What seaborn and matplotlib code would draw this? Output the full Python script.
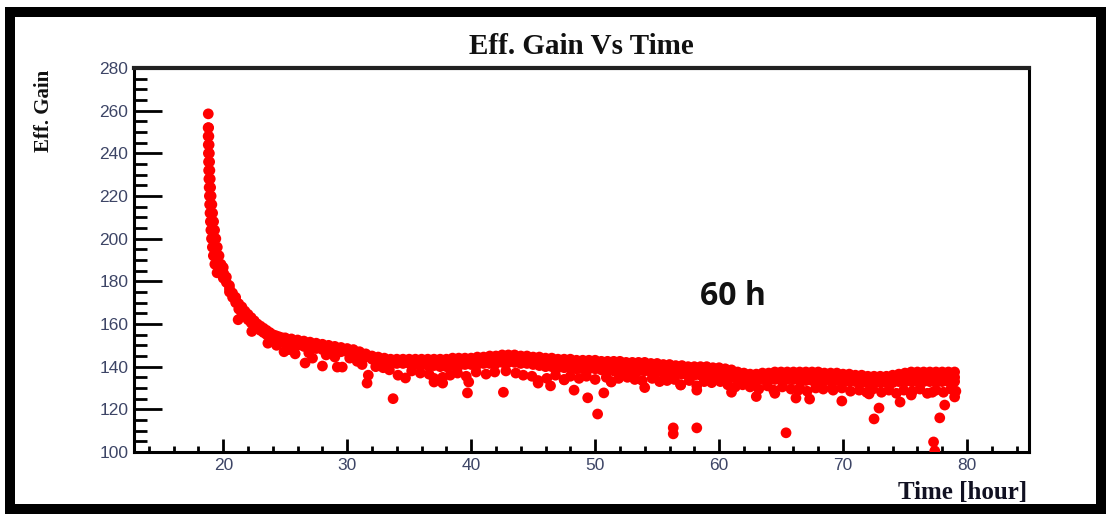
import numpy as np
import pandas as pd
import matplotlib
matplotlib.use("Agg")
import matplotlib.pyplot as plt
import seaborn as sns
from matplotlib.ticker import MultipleLocator
from matplotlib.patches import Rectangle

# ---------------- data ----------------
# steep initial decay (time [hour], eff. gain)
rise_time = [18.79,
             18.78, 18.78, 18.79, 18.80, 18.81, 18.82, 18.84, 18.86, 18.88, 18.90,
             18.93, 18.96, 19.00, 19.05, 19.12, 19.20, 19.32, 19.50,
             18.82, 18.84, 18.86, 18.88, 18.90, 18.92, 18.95, 18.98, 19.02, 19.08,
             19.14, 19.22, 19.30, 19.40, 19.52, 19.66, 19.82, 20.00,
             20.25, 20.25, 20.75, 20.75, 21.25, 21.25, 21.75, 21.75, 22.25, 22.25,
             22.75, 22.75, 23.25, 23.25, 23.75, 23.75, 24.25, 24.25, 24.75, 24.75]
rise_gain = [258.5,
             252.0, 248.0, 244.0, 240.0, 236.0, 232.0, 228.0, 224.0, 220.0, 216.0,
             212.0, 208.0, 204.0, 200.0, 196.0, 192.0, 188.0, 184.0,
             252.0, 248.0, 244.0, 240.0, 236.0, 232.0, 228.0, 224.0, 220.0, 216.0,
             212.0, 208.0, 204.0, 200.0, 196.0, 192.0, 188.0, 184.0,
             182.0, 179.5, 174.5, 172.5, 169.5, 167.0, 166.0, 163.5, 163.0, 160.5,
             160.0, 158.0, 158.0, 156.0, 156.0, 154.0, 154.5, 152.5, 153.5, 151.5]

# main band: time and three rows (upper / middle / lower part of the band)
band_time = [20.0, 20.5, 21.0, 21.5, 22.0, 22.5, 23.0, 23.5, 24.0, 24.5,
             25.0, 25.5, 26.0, 26.5, 27.0, 27.5, 28.0, 28.5, 29.0, 29.5,
             30.0, 30.5, 31.0, 31.5, 32.0, 32.5, 33.0, 33.5, 34.0, 34.5,
             35.0, 35.5, 36.0, 36.5, 37.0, 37.5, 38.0, 38.5, 39.0, 39.5,
             40.0, 40.5, 41.0, 41.5, 42.0, 42.5, 43.0, 43.5, 44.0, 44.5,
             45.0, 45.5, 46.0, 46.5, 47.0, 47.5, 48.0, 48.5, 49.0, 49.5,
             50.0, 50.5, 51.0, 51.5, 52.0, 52.5, 53.0, 53.5, 54.0, 54.5,
             55.0, 55.5, 56.0, 56.5, 57.0, 57.5, 58.0, 58.5, 59.0, 59.5,
             60.0, 60.5, 61.0, 61.5, 62.0, 62.5, 63.0, 63.5, 64.0, 64.5,
             65.0, 65.5, 66.0, 66.5, 67.0, 67.5, 68.0, 68.5, 69.0, 69.5,
             70.0, 70.5, 71.0, 71.5, 72.0, 72.5, 73.0, 73.5, 74.0, 74.5,
             75.0, 75.5, 76.0, 76.5, 77.0, 77.5, 78.0, 78.5, 79.0]
band_hi = [186.5, 178.0, 172.5, 168.0, 164.5, 161.5, 159.0, 157.0, 155.0, 154.0,
           153.5, 153.0, 152.5, 152.0, 151.5, 151.0, 150.5, 150.0, 149.5, 149.0,
           148.5, 148.0, 147.0, 146.0, 145.0, 144.5, 144.0, 143.5, 143.5, 143.5,
           143.5, 143.5, 143.5, 143.5, 143.5, 143.5, 143.5, 144.0, 144.0, 144.0,
           144.0, 144.5, 144.5, 145.0, 145.0, 145.5, 145.5, 145.5, 145.0, 145.0,
           144.5, 144.5, 144.0, 144.0, 143.5, 143.5, 143.5, 143.0, 143.0, 143.0,
           143.0, 142.5, 142.5, 142.5, 142.5, 142.0, 142.0, 142.0, 142.0, 141.5,
           141.5, 141.0, 141.0, 140.5, 140.5, 140.0, 140.0, 140.0, 140.0, 139.5,
           139.5, 139.0, 138.5, 137.5, 137.0, 136.5, 136.5, 137.0, 137.0, 137.5,
           137.5, 137.5, 137.5, 137.5, 137.5, 137.5, 137.5, 137.0, 137.0, 137.0,
           136.5, 136.5, 136.0, 136.0, 135.5, 135.5, 135.5, 135.5, 136.0, 136.5,
           137.0, 137.5, 137.5, 137.5, 137.5, 137.5, 137.5, 137.5, 137.5]
band_mid = [184.0, 176.5, 171.0, 166.5, 163.0, 160.0, 157.5, 156.0, 154.0, 153.0,
            152.5, 152.0, 151.5, 150.5, 150.0, 149.5, 149.0, 148.5, 148.5, 148.0,
            147.5, 147.0, 146.0, 145.0, 144.0, 143.5, 143.0, 142.5, 142.5, 142.5,
            142.0, 142.0, 142.0, 142.0, 141.5, 142.0, 142.0, 142.0, 142.5, 142.5,
            142.5, 143.0, 143.0, 143.0, 143.5, 143.5, 144.0, 143.5, 143.5, 143.0,
            143.0, 142.5, 142.0, 142.0, 141.5, 141.5, 141.5, 141.0, 141.0, 141.0,
            141.0, 140.5, 140.5, 140.5, 140.0, 140.0, 140.0, 140.0, 140.0, 139.5,
            139.5, 139.0, 139.0, 138.5, 138.5, 138.0, 138.0, 138.0, 138.0, 137.5,
            137.5, 137.0, 136.5, 136.0, 135.5, 135.0, 135.0, 135.5, 135.5, 135.5,
            135.5, 135.5, 135.5, 135.5, 135.5, 135.5, 135.5, 135.0, 135.0, 135.0,
            134.5, 134.5, 134.5, 134.0, 134.0, 134.0, 134.0, 134.0, 134.0, 134.5,
            135.0, 135.0, 135.0, 135.0, 135.0, 135.0, 135.0, 135.0, 135.0]
band_lo = [181.5, 175.0, 170.0, 165.0, 162.0, 159.0, 157.0, 155.0, 153.5, 152.5,
           151.5, 151.0, 150.0, 149.5, 149.0, 148.5, 148.0, 147.5, 147.5, 147.0,
           147.0, 146.5, 145.5, 144.5, 143.5, 143.0, 142.5, 142.0, 141.5, 141.5,
           141.5, 141.0, 141.0, 140.5, 140.5, 140.0, 140.0, 140.5, 140.5, 141.0,
           141.0, 141.0, 141.5, 141.5, 141.5, 142.0, 142.0, 142.0, 141.5, 141.5,
           141.0, 140.5, 140.0, 140.0, 139.5, 139.5, 139.5, 139.0, 139.0, 139.0,
           139.0, 138.5, 138.5, 138.0, 138.0, 138.0, 138.0, 138.0, 138.0, 137.5,
           137.5, 137.0, 137.0, 136.5, 136.5, 136.0, 136.0, 136.0, 136.0, 135.5,
           135.5, 135.0, 135.0, 134.5, 134.0, 133.5, 133.5, 134.0, 134.0, 134.0,
           134.0, 134.0, 134.0, 133.5, 133.5, 133.5, 133.5, 133.5, 133.5, 133.5,
           133.0, 133.0, 133.0, 132.5, 132.5, 132.5, 132.5, 132.5, 132.5, 133.0,
           133.0, 133.0, 133.0, 133.0, 133.0, 133.0, 133.0, 133.0, 133.0]

# ragged points just below the band
edge_time = [21.2, 22.3, 23.6, 24.3, 25.3, 25.8, 26.9, 27.2, 28.3, 29.0, 30.2, 30.8,
             31.2, 32.3, 32.9, 33.4, 34.1, 35.2, 35.9, 36.6, 37.0, 37.7, 38.3, 38.9,
             39.6, 40.4, 41.2, 41.9, 42.8, 43.6, 44.2, 44.9, 45.4, 46.1, 46.8, 47.5,
             48.0, 48.7, 49.3, 50.0, 50.9, 51.3, 51.9, 52.6, 53.2, 53.8, 54.6, 55.2,
             55.8, 56.4, 56.9, 57.6, 58.2, 58.8, 59.4, 60.1, 60.7, 61.3, 61.9, 62.5,
             63.2, 63.9, 64.4, 65.1, 65.8, 66.5, 67.1, 67.8, 68.4, 69.2, 69.9, 70.6,
             71.3, 71.9, 72.4, 73.1, 73.7, 74.3, 74.9, 75.6, 76.2, 76.8, 77.5, 78.1,
             78.7, 79.1]
edge_gain = [162.0, 156.5, 151.0, 150.0, 148.0, 146.0, 146.5, 144.0, 145.5, 144.5, 144.0, 142.5,
             141.0, 140.0, 139.5, 138.5, 136.0, 138.0, 137.0, 136.5, 134.5, 135.0, 136.0, 137.0,
             135.5, 137.5, 136.5, 137.5, 138.0, 137.0, 136.0, 135.5, 133.5, 134.5, 136.0, 134.0,
             135.5, 134.5, 135.5, 134.0, 135.0, 133.0, 134.5, 135.0, 134.0, 133.5, 134.5, 133.0,
             133.5, 134.0, 131.5, 133.5, 131.0, 133.0, 132.5, 133.0, 131.5, 130.5, 131.5, 130.5,
             129.5, 131.0, 129.0, 130.5, 129.5, 130.0, 128.5, 130.0, 129.5, 129.0, 130.0, 128.5,
             129.0, 128.0, 129.5, 128.0, 129.0, 127.5, 129.0, 128.5, 129.5, 127.5, 129.0, 128.0,
             129.5, 128.5]

# isolated outliers
out_time = [24.9, 26.6, 28.0, 29.2, 29.6, 31.7, 31.6, 33.7, 34.7, 37.0, 37.7, 39.8,
            39.7, 42.6, 45.4, 46.4, 47.5, 48.3, 49.4, 50.7, 50.2, 51.3, 54.0, 56.3,
            56.3, 58.2, 56.9, 58.2, 61.0, 63.0, 64.5, 65.4, 66.2, 66.4, 67.3, 69.1,
            69.9, 72.1, 72.9, 72.5, 74.6, 75.5, 77.2, 78.2, 77.8, 79.0, 77.3, 77.4]
out_gain = [147.0, 141.7, 140.3, 139.8, 139.8, 136.0, 132.3, 125.0, 134.7, 132.8, 132.3, 132.8,
            127.7, 128.0, 132.3, 131.0, 133.8, 129.0, 125.4, 127.7, 117.8, 132.8, 130.2, 111.3,
            108.5, 111.3, 131.4, 129.0, 128.0, 126.0, 127.5, 109.0, 125.3, 129.0, 124.8, 130.0,
            123.9, 127.2, 120.6, 115.5, 123.4, 126.7, 128.0, 122.0, 116.0, 125.8, 104.7, 100.5]

x_ticks = [20, 30, 40, 50, 60, 70, 80]
y_ticks = [100, 120, 140, 160, 180, 200, 220, 240, 260, 280]

# ---------------- figure ----------------
sns.set_style("ticks")
plt.rcParams['font.family'] = ['Liberation Sans', 'DejaVu Sans']

fig = plt.figure(figsize=(11.14, 5.19), dpi=100)
ax = fig.add_axes([0.1203, 0.1291, 0.8034, 0.7399])

df = pd.DataFrame({
    "time": rise_time + band_time * 3 + edge_time + out_time,
    "gain": rise_gain + band_hi + band_mid + band_lo + edge_gain + out_gain,
})
sns.scatterplot(data=df, x="time", y="gain", color="#ff0000", s=60,
                linewidth=0, edgecolor="none", ax=ax, legend=False, zorder=3)

ax.set_xlim(12.8, 85.0)
ax.set_ylim(100, 280)
ax.set_xticks(x_ticks)
ax.set_yticks(y_ticks)
ax.xaxis.set_minor_locator(MultipleLocator(2))
ax.yaxis.set_minor_locator(MultipleLocator(5))

tick_col = "#3d4566"
ax.tick_params(axis="both", which="both", direction="in", colors="black",
               labelcolor=tick_col, labelsize=12.5, top=False, right=False)
ax.tick_params(axis="y", which="major", length=20, width=2.0, pad=4)
ax.tick_params(axis="y", which="minor", length=9.5, width=2.0)
ax.tick_params(axis="x", which="major", length=9.5, width=2.0, pad=4)
ax.tick_params(axis="x", which="minor", length=4.5, width=2.0)

for side in ["left", "bottom", "right"]:
    ax.spines[side].set_linewidth(2.2)
    ax.spines[side].set_color("black")
ax.spines["top"].set_linewidth(3.0)
ax.spines["top"].set_color("#222222")

ax.set_title("Eff. Gain Vs Time", family="Liberation Serif", fontweight="bold",
             fontsize=21, color="#111111", pad=10)
ax.set_xlabel("Time [hour]", family="Liberation Serif", fontweight="bold",
              fontsize=18, color="#111122", loc="right")
ax.xaxis.set_label_coords(0.998, -0.075)
ax.set_ylabel("Eff. Gain", family="Liberation Serif", fontweight="bold",
              fontsize=15, color="#111111", loc="top")
ax.yaxis.set_label_coords(-0.089, 0.995)

ax.text(61.1, 172.7, "60 h", family="Open Sans", fontweight="bold",
        fontsize=23, color="#111111", ha="center", va="center")

fig.patches.append(Rectangle((0.00898, 0.0193), 0.9794, 0.9585,
                             transform=fig.transFigure, fill=False,
                             lw=7.2, ec="black", zorder=10))

fig.savefig("out.png", dpi=100)
